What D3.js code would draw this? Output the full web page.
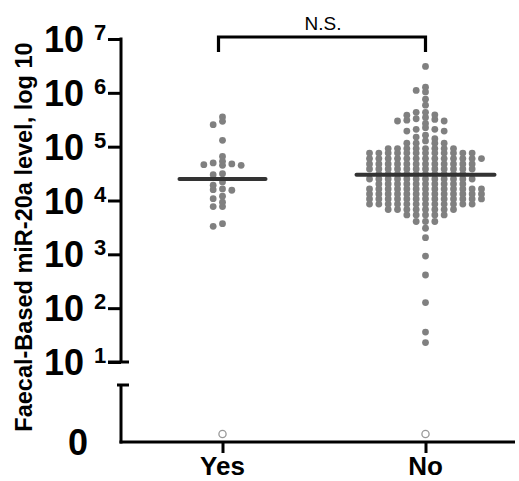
<!DOCTYPE html>
<html><head><meta charset="utf-8">
<script src="https://cdn.jsdelivr.net/npm/d3@7"></script>
<style>body{margin:0;background:#fff}svg{display:block}</style>
</head><body><svg id="c" width="519" height="481"></svg>
<script>
// ---------- data ----------
const categories = ["Yes", "No"];
const yTickExponents = [1, 2, 3, 4, 5, 6, 7];
const yesValues = [3.56e5, 2.96e5, 2.56e5, 1.31e5, 6.6e4, 5.35e4, 4.98e4, 4.77e4, 4.63e4, 4.5e4, 4.5e4,
  3.15e4, 3.01e4, 2.21e4, 1.92e4, 1.64e4, 1.59e4, 1.55e4, 1.2e4, 1.08e4, 9.3e3, 7.7e3, 7.7e3, 3.71e3, 3.32e3];
const noValues = [3.1e6, 1.27e6, 1.11e6, 1.04e6, 7.6e5, 5.9e5, 4.35e5, 4.35e5, 3.9e5, 3.85e5, 3.5e5, 3.3e5,
  3.2e5, 3.1e5, 3.0e5, 3.0e5, 2.7e5, 2.25e5, 2.1e5, 2.1e5, 1.95e5, 1.95e5, 1.63e5, 1.51e5, 1.41e5, 1.28e5,
  1.16e5, 1.16e5, 1.16e5, 1.16e5,
  9.2e4, 9.2e4, 9.2e4, 9.2e4, 9.2e4, 9.2e4, 9.2e4, 9.2e4,
  7.6e4, 7.6e4, 7.6e4, 7.6e4, 7.6e4, 7.6e4, 7.6e4, 7.6e4, 7.6e4, 7.6e4, 7.6e4, 7.6e4,
  6.0e4, 6.0e4, 6.0e4, 6.0e4, 6.0e4, 6.0e4, 6.0e4, 6.0e4, 6.0e4, 6.0e4, 6.0e4, 6.0e4, 6.0e4,
  4.77e4, 4.77e4, 4.77e4, 4.77e4, 4.77e4, 4.77e4, 4.77e4, 4.77e4, 4.77e4, 4.77e4, 4.77e4, 4.77e4,
  3.85e4, 3.85e4, 3.85e4, 3.85e4, 3.85e4, 3.85e4, 3.85e4, 3.85e4, 3.85e4, 3.85e4, 3.85e4, 3.85e4,
  3.1e4, 3.1e4, 3.1e4, 3.1e4, 3.1e4, 3.1e4, 3.1e4, 3.1e4, 3.1e4, 3.1e4,
  2.51e4, 2.51e4, 2.51e4, 2.51e4, 2.51e4, 2.51e4, 2.51e4, 2.51e4, 2.51e4, 2.51e4, 2.51e4, 2.51e4,
  2.03e4, 2.03e4, 2.03e4, 2.03e4, 2.03e4, 2.03e4, 2.03e4, 2.03e4, 2.03e4, 2.03e4,
  1.64e4, 1.64e4, 1.64e4, 1.64e4, 1.64e4, 1.64e4, 1.64e4, 1.64e4, 1.64e4, 1.64e4, 1.64e4, 1.64e4, 1.64e4,
  1.32e4, 1.32e4, 1.32e4, 1.32e4, 1.32e4, 1.32e4, 1.32e4, 1.32e4, 1.32e4, 1.32e4, 1.32e4, 1.32e4, 1.32e4,
  1.07e4, 1.07e4, 1.07e4, 1.07e4, 1.07e4, 1.07e4, 1.07e4, 1.07e4, 1.07e4, 1.07e4, 1.07e4, 1.07e4, 1.07e4,
  8.6e3, 8.6e3, 8.6e3, 8.6e3, 8.6e3, 8.6e3, 8.6e3, 8.6e3, 8.6e3, 8.6e3, 8.6e3, 8.6e3,
  6.8e3, 6.8e3, 6.8e3, 6.8e3, 6.8e3, 6.8e3, 6.8e3, 6.8e3,
  5.4e3, 5.4e3, 5.4e3, 5.4e3, 5.4e3,
  4.07e3, 4.07e3, 4.07e3,
  3.05e3, 2.04e3, 930, 413, 127, 36, 23];
const medians = [2.5e4, 3.0e4];
const zeroCounts = [1, 1];
const sigLabel = "N.S.";
const yTitle = "Faecal-Based miR-20a level, log 10";

// ---------- layout / style ----------
const FONT = "'Liberation Sans', Arial, Helvetica, sans-serif";
const axisX = 121, yTop = 39, yLow = 362, zeroTop = 385, baseY = 442;
const DOT_R = 3.4, STEP = 9.33, DMIN = 4;
const medianHalf = [43, 69];
const svg = d3.select("#c");

const y = d3.scaleLog().domain([10, 1e7]).range([yLow, yTop]);
const x = d3.scalePoint().domain(categories).range([axisX, 527]).padding(0.5);

// y axis (log part)
const yAxis = d3.axisLeft(y)
  .tickValues(yTickExponents.map(e => Math.pow(10, e)))
  .tickSize(13).tickSizeOuter(0).tickFormat("");
const gy = svg.append("g").attr("transform", `translate(${axisX},0)`).call(yAxis);
gy.selectAll("path.domain").attr("stroke", "#000").attr("stroke-width", 3)
  .attr("d", `M0,${yTop - 1.5}V${yLow}`);
gy.selectAll(".tick line").attr("stroke", "#000").attr("stroke-width", 3);
svg.append("line").attr("x1", axisX - 13).attr("x2", axisX + 8)
  .attr("y1", yLow).attr("y2", yLow).attr("stroke", "#000").attr("stroke-width", 3);
// tick labels
const lab = svg.append("g").attr("font-family", FONT).attr("font-weight", "bold").attr("fill", "#000");
yTickExponents.forEach(e => {
  const ty = y(Math.pow(10, e));
  lab.append("text").attr("x", 84).attr("y", ty + 13).attr("text-anchor", "end")
    .attr("font-size", 36).text("10");
  lab.append("text").attr("x", 94).attr("y", ty + 1).attr("font-size", 22).text(e);
});

// zero segment
svg.append("line").attr("x1", axisX).attr("x2", axisX).attr("y1", zeroTop).attr("y2", baseY + 1.5)
  .attr("stroke", "#000").attr("stroke-width", 3);
svg.append("line").attr("x1", axisX - 4).attr("x2", axisX + 8).attr("y1", zeroTop).attr("y2", zeroTop)
  .attr("stroke", "#000").attr("stroke-width", 3);
lab.append("text").attr("x", 78).attr("y", baseY + 12.5).attr("text-anchor", "middle")
  .attr("font-size", 36).text("0");

// x axis
const xAxis = d3.axisBottom(x).tickSize(11).tickSizeOuter(0).tickFormat("");
const gx = svg.append("g").attr("transform", `translate(0,${baseY})`).call(xAxis);
gx.selectAll("path.domain").attr("stroke", "#000").attr("stroke-width", 3)
  .attr("d", `M${axisX - 1.5},0H515`);
gx.selectAll(".tick line").attr("stroke", "#000").attr("stroke-width", 3);
categories.forEach(c => {
  svg.append("text").attr("x", x(c)).attr("y", 475).attr("text-anchor", "middle")
    .attr("font-family", FONT).attr("font-weight", "bold").attr("font-size", 26)
    .text(c);
});

// y title
svg.append("text").attr("transform", "translate(32,237) rotate(-90)")
  .attr("text-anchor", "middle").attr("font-family", FONT).attr("font-weight", "bold")
  .attr("font-size", 23.5).text(yTitle);

// swarm layout (grid slots, nearest free slot to the centre)
function swarm(values, cx) {
  const pts = values.map(v => ({ v, y: y(v) })).sort((a, b) => a.y - b.y);
  const placed = [];
  pts.forEach(p => {
    for (let k = 0; ; k++) {
      const s = k === 0 ? 0 : (k % 2 ? -Math.ceil(k / 2) : Math.ceil(k / 2));
      if (!placed.some(q => q.s === s && Math.abs(q.y - p.y) < DMIN)) { p.s = s; placed.push(p); break; }
    }
  });
  pts.forEach(p => p.x = cx + p.s * STEP);
  return pts;
}
[yesValues, noValues].forEach((vals, i) => {
  const pts = swarm(vals, x(categories[i]));
  svg.append("g").selectAll("circle").data(pts).join("circle")
    .attr("cx", d => d.x).attr("cy", d => d.y).attr("r", DOT_R).attr("fill", "#808080");
});
// medians
medians.forEach((m, i) => {
  svg.append("line").attr("x1", x(categories[i]) - medianHalf[i]).attr("x2", x(categories[i]) + medianHalf[i])
    .attr("y1", y(m)).attr("y2", y(m)).attr("stroke", "#333").attr("stroke-width", 4)
    .attr("stroke-linecap", "round");
});
// zero values (open circles)
zeroCounts.forEach((n, i) => {
  d3.range(n).forEach(() => {
    svg.append("circle").attr("cx", x(categories[i])).attr("cy", baseY - 8).attr("r", 3.6)
      .attr("fill", "#fff").attr("stroke", "#999").attr("stroke-width", 1.3);
  });
});

// significance bracket
const bY = 37, bDrop = 15;
svg.append("path").attr("fill", "none").attr("stroke", "#000").attr("stroke-width", 3.2)
  .attr("d", `M${x("Yes") - 4},${bY + bDrop}V${bY}H${x("No")}V${bY + bDrop}`);
svg.append("text").attr("x", (x("Yes") + x("No")) / 2 - 1).attr("y", 30).attr("text-anchor", "middle")
  .attr("font-family", FONT).attr("font-size", 19).text(sigLabel);
</script></body></html>
